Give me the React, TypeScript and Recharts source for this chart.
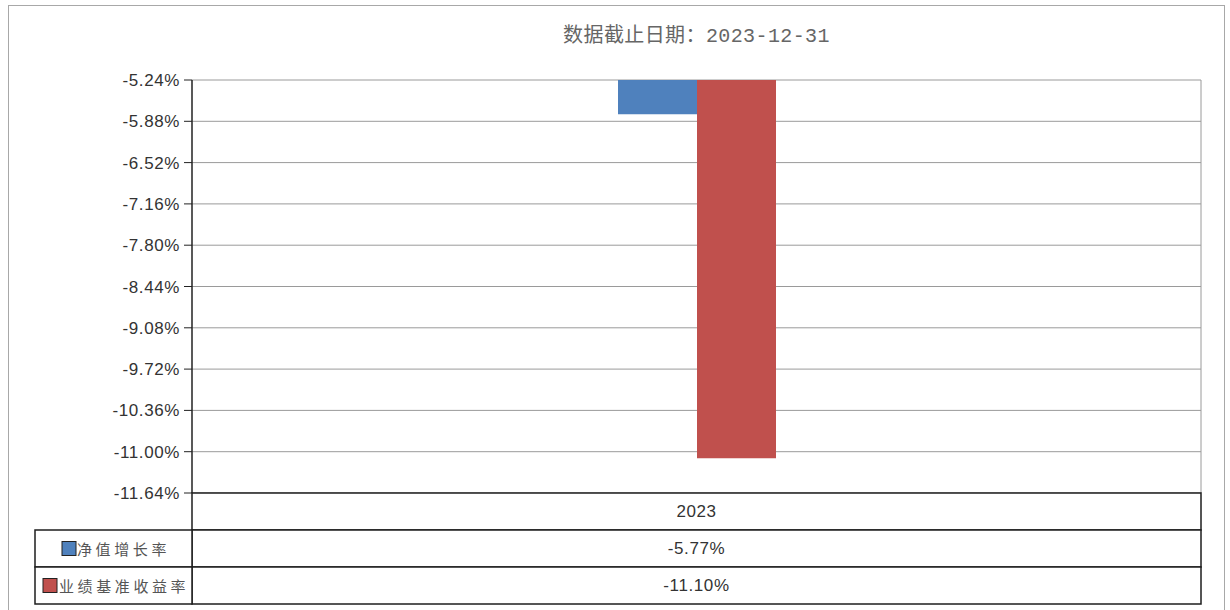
import React from "react";
import {
  BarChart,
  Bar,
  XAxis,
  YAxis,
  CartesianGrid,
} from "recharts";

const categories = ["2023"];
const navGrowth = [-5.77];
const benchmarkReturn = [-11.1];
const seriesNames = ["净值增长率", "业绩基准收益率"];
const seriesColors = ["#4F81BD", "#C0504D"];
const yTicks = [
  -5.24, -5.88, -6.52, -7.16, -7.8, -8.44, -9.08, -9.72, -10.36, -11.0, -11.64,
];
const titleText = "数据截止日期：2023-12-31";

const W = 1230;
const H = 610;
const PLOT_LEFT = 192;
const PLOT_RIGHT = 1201;
const PLOT_TOP = 80;
const TABLE_H = 111;
const ROW_H = TABLE_H / 3;
const LABEL_LEFT = 35;

const pct = (v: number) => `${v.toFixed(2)}%`;

const data = categories.map((c, i) => ({
  year: c,
  nav: navGrowth[i],
  bench: benchmarkReturn[i],
}));

const LINE = "#1e1e1e";
const SANS = "'Liberation Sans', Arial, sans-serif";
const CJK = "'Noto Sans CJK SC', sans-serif";

// x-axis tick draws the data table under each category
const TableTick = (props: any) => {
  const { x, y, payload, index } = props;
  const bw = (PLOT_RIGHT - PLOT_LEFT) / categories.length;
  const left = x - bw / 2;
  const i = index ?? 0;
  const cells = [payload.value, pct(navGrowth[i]), pct(benchmarkReturn[i])];
  return (
    <g>
      {cells.map((txt, r) => (
        <g key={r}>
          <rect
            x={left}
            y={y + r * ROW_H}
            width={bw}
            height={ROW_H}
            fill="#fff"
            stroke={LINE}
            strokeWidth={1.5}
          />
          <text
            x={x}
            y={y + r * ROW_H + ROW_H / 2}
            textAnchor="middle"
            dominantBaseline="central"
            fontFamily={SANS}
            fontSize={17}
            letterSpacing={0.6}
            fill="#333"
          >
            {txt}
          </text>
        </g>
      ))}
      {i === 0 &&
        seriesNames.map((name, r) => {
          const ry = y + (r + 1) * ROW_H;
          return (
            <g key={name}>
              <rect
                x={LABEL_LEFT}
                y={ry}
                width={left - LABEL_LEFT}
                height={ROW_H}
                fill="#fff"
                stroke={LINE}
                strokeWidth={1.5}
              />
              <rect
                x={r === 0 ? 62 : 43}
                y={ry + ROW_H / 2 - 7}
                width={14}
                height={14}
                fill={seriesColors[r]}
                stroke="#222"
                strokeWidth={1}
              />
              <text
                x={r === 0 ? 77 : 59}
                y={ry + ROW_H / 2}
                dominantBaseline="central"
                fontFamily={CJK}
                fontSize={15}
                letterSpacing={3.6}
                fill="#555"
              >
                {name}
              </text>
            </g>
          );
        })}
    </g>
  );
};

export default function App() {
  return (
    <div
      style={{
        position: "absolute",
        left: 0,
        top: 0,
        width: W,
        height: H,
        background: "#fff",
        overflow: "hidden",
      }}
    >
      <div
        style={{
          position: "absolute",
          left: 8,
          top: 5,
          width: 1217,
          height: 620,
          border: "1px solid #a8a8a8",
          boxSizing: "border-box",
        }}
      />
      <div
        style={{
          position: "absolute",
          left: PLOT_LEFT,
          width: PLOT_RIGHT - PLOT_LEFT,
          top: 24,
          textAlign: "center",
          fontFamily: `'Liberation Mono', ${CJK}`,
          fontSize: 20,
          lineHeight: "26px",
          letterSpacing: 0.4,
          color: "#666",
        }}
      >
        {titleText}
      </div>
      <BarChart
        width={W}
        height={H}
        data={data}
        margin={{ top: PLOT_TOP, right: W - PLOT_RIGHT, bottom: 6, left: 0 }}
        barGap={0}
        style={{ position: "absolute", left: 0, top: 0 }}
      >
        <CartesianGrid
          stroke="#9a9a9a"
          verticalCoordinatesGenerator={({ offset }: any) => [
            offset.left + offset.width,
          ]}
        />
        <XAxis
          dataKey="year"
          height={TABLE_H}
          axisLine={false}
          tickLine={false}
          tickSize={0}
          tickMargin={0}
          interval={0}
          tick={<TableTick />}
        />
        <YAxis
          width={PLOT_LEFT}
          domain={[yTicks[yTicks.length - 1], yTicks[0]]}
          ticks={yTicks}
          interval={0}
          tickFormatter={pct}
          axisLine={{ stroke: "#222", strokeWidth: 1.5 }}
          tickLine={{ stroke: "#222" }}
          tickSize={8}
          tickMargin={4}
          tick={{
            fontSize: 17,
            fill: "#333",
            fontFamily: SANS,
            letterSpacing: 0.6,
          }}
        />
        <Bar
          dataKey="nav"
          name={seriesNames[0]}
          fill={seriesColors[0]}
          barSize={79}
          isAnimationActive={false}
        />
        <Bar
          dataKey="bench"
          name={seriesNames[1]}
          fill={seriesColors[1]}
          barSize={79}
          isAnimationActive={false}
        />
      </BarChart>
    </div>
  );
}
